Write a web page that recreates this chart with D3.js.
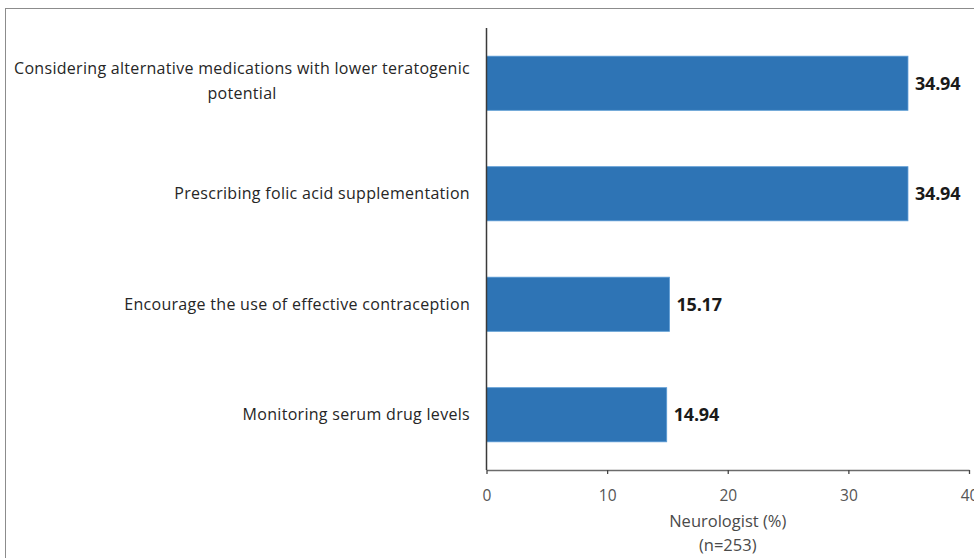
<!DOCTYPE html>
<html>
<head>
<meta charset="utf-8">
<script src="https://cdn.jsdelivr.net/npm/d3@7"></script>
<style>
  html, body { margin: 0; padding: 0; background: #fff; }
  svg { display: block; }
</style>
</head>
<body>
<svg id="chart" width="974" height="558"></svg>
<script>
// Chart data
const categories = [
  ["Considering alternative medications with lower teratogenic", "potential"],
  ["Prescribing folic acid supplementation"],
  ["Encourage the use of effective contraception "],
  ["Monitoring serum drug levels"]
];
const values = [34.94, 34.94, 15.17, 14.94];
const xTicks = [0, 10, 20, 30, 40];
const axisTitle = ["Neurologist (%)", "(n=253)"];

const W = 974, H = 558;
const margin = { left: 486.5, top: 28, right: 5, bottom: 88 };
const fontFamily = "'Open Sans', Lato, sans-serif";

const svg = d3.select("#chart");

// outer chart frame
svg.append("rect")
  .attr("x", 5.5).attr("y", 8.5)
  .attr("width", W + 10).attr("height", H + 10)
  .attr("fill", "none").attr("stroke", "#8c8c8c").attr("stroke-width", 1);

const x = d3.scaleLinear().domain([0, 40]).range([margin.left, 969]);
const y = d3.scaleBand()
  .domain(d3.range(categories.length))
  .range([margin.top, 470])
  .paddingInner(0.51).paddingOuter(0.255);

const g = svg.append("g");

// bars
g.selectAll("rect.bar")
  .data(values)
  .join("rect")
  .attr("class", "bar")
  .attr("x", x(0))
  .attr("y", (d, i) => y(i))
  .attr("width", d => x(d) - x(0))
  .attr("height", y.bandwidth())
  .attr("fill", "#2e74b5")
  .attr("stroke", "#5b9bd5")
  .attr("stroke-width", 0.8);

// value labels
g.selectAll("text.val")
  .data(values)
  .join("text")
  .attr("class", "val")
  .attr("x", d => x(d) + 7)
  .attr("y", (d, i) => y(i) + y.bandwidth() / 2)
  .attr("dy", "0.35em")
  .attr("font-family", fontFamily)
  .attr("font-size", 18)
  .attr("font-weight", "bold")
  .attr("letter-spacing", -0.2)
  .attr("fill", "#1a1a1a")
  .text(d => d.toFixed(2));

// x axis
const xAxis = d3.axisBottom(x).tickValues(xTicks).tickSize(4).tickSizeOuter(0).tickFormat(d3.format("d"));
const xg = svg.append("g")
  .attr("transform", `translate(0,470)`)
  .call(xAxis);
xg.select(".domain").attr("stroke", "#6b6b6b").attr("stroke-width", 1.5);
xg.selectAll(".tick line").attr("stroke", "#444").attr("stroke-width", 1.3);
xg.selectAll(".tick text")
  .attr("y", 20)
  .attr("font-family", fontFamily)
  .attr("font-size", 15.5)
  .attr("fill", "#555");

// y axis line
svg.append("line")
  .attr("x1", x(0)).attr("x2", x(0))
  .attr("y1", margin.top).attr("y2", 470)
  .attr("stroke", "#3a3a3a").attr("stroke-width", 1.5);

// category labels: centered block, right-aligned against the axis
const labelRight = 470;
categories.forEach((lines, i) => {
  const cy = y(i) + y.bandwidth() / 2;
  const lh = 25;
  const t = svg.append("text")
    .attr("font-family", fontFamily)
    .attr("font-size", 16)
    .attr("letter-spacing", 0.3)
    .attr("fill", "#262626")
    .attr("text-anchor", "middle");
  const spans = lines.map((s, k) => t.append("tspan").text(s));
  const widths = spans.map(s => s.node().getComputedTextLength());
  const maxW = d3.max(widths);
  const cx = labelRight - maxW / 2;
  const y0 = cy - (lines.length - 1) * lh / 2 - (lines.length > 1 ? 2 : 0);
  spans.forEach((s, k) => s.attr("x", cx).attr("y", y0 + k * lh).attr("dy", "0.35em"));
});

// axis title
const title = svg.append("text")
  .attr("font-family", fontFamily)
  .attr("font-size", 16.5)
  .attr("fill", "#4a4a4a")
  .attr("text-anchor", "middle");
axisTitle.forEach((s, k) => {
  title.append("tspan").attr("x", x(20)).attr("y", 521 + k * 24).attr("dy", "0.35em").text(s);
});
</script>
</body>
</html>
